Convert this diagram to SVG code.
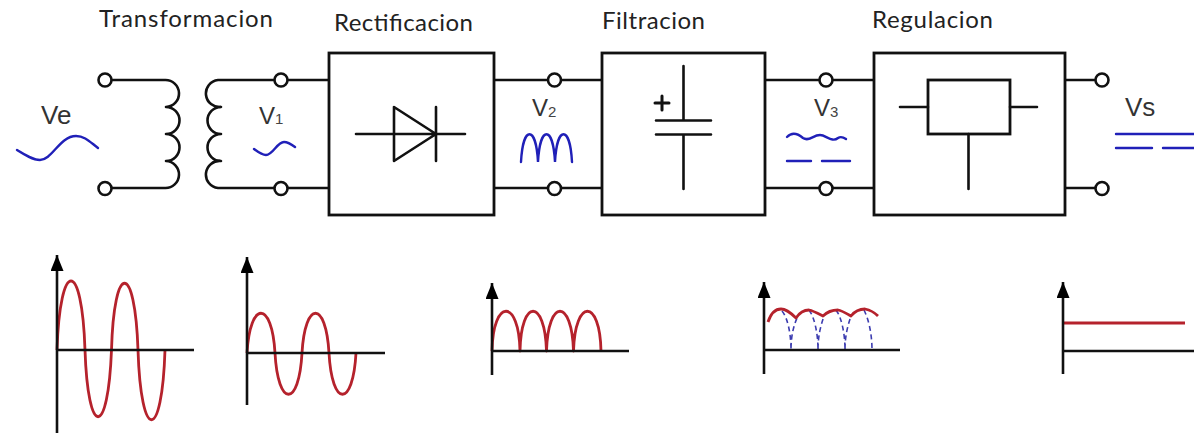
<svg xmlns="http://www.w3.org/2000/svg" width="1194" height="433" viewBox="0 0 1194 433">
<defs>
<marker id="ah" markerUnits="userSpaceOnUse" markerWidth="18" markerHeight="14" refX="16" refY="6.500" orient="auto"><path d="M0 0L16 6.500L0 13Z" fill="#000"/></marker>
</defs>
<style>
.w{fill:none;stroke:#111;stroke-width:2.6;stroke-linecap:round;stroke-linejoin:round}
.b{fill:#fff;stroke:#111;stroke-width:2.8}
.t{fill:#fff;stroke:#111;stroke-width:2.6}
.ax{fill:none;stroke:#111;stroke-width:2.6}
.r{fill:none;stroke:#b5222c;stroke-width:2.8;stroke-linejoin:round}
.bl{fill:none;stroke:#2020b8;stroke-width:2.400;stroke-linecap:round}
.d{fill:none;stroke:#3c3cb0;stroke-width:1.600;stroke-dasharray:5 3.500}
.h{font-family:"Lato","Open Sans",sans-serif;font-size:24px;fill:#222}
.v{font-family:"Liberation Sans",Arial,sans-serif;font-size:24px;fill:#333}
.s{font-family:"Liberation Sans",Arial,sans-serif;font-size:15px;fill:#444}
</style>
<rect width="1194" height="433" fill="#fff"/>
<g id="connectors" class="w">
<path d="M105 80H165A13 13 0 0 1 166 107A13.500 13.500 0 0 1 166 134A13.500 13.500 0 0 1 166 161A13.500 13.500 0 0 1 165 188H105"/>
<path d="M281 80H218A13 13 0 0 0 221 107A13.500 13.500 0 0 0 221 134A13.500 13.500 0 0 0 221 161A13.500 13.500 0 0 0 218 188H281"/>
<path d="M281 80H329M281 188H329M494 80H602M494 188H602M765 80H874M765 188H874M1065 80H1102M1065 188H1102"/>
</g>
<g id="terminals">
<circle class="t" cx="105" cy="80" r="6.500"/><circle class="t" cx="105" cy="188.500" r="6.500"/>
<circle class="t" cx="281" cy="80" r="6.500"/><circle class="t" cx="281" cy="188.500" r="6.500"/>
<circle class="t" cx="554.500" cy="80" r="6.500"/><circle class="t" cx="554.500" cy="188.500" r="6.500"/>
<circle class="t" cx="826" cy="80" r="6.500"/><circle class="t" cx="826" cy="188.500" r="6.500"/>
<circle class="t" cx="1102" cy="80" r="6.500"/><circle class="t" cx="1102" cy="188.500" r="6.500"/>
</g>
<g id="rectifier">
<rect class="b" x="329" y="53" width="165" height="162"/>
<path class="w" d="M356 134H465M394 107V161L436 134ZM436 107V161"/>
</g>
<g id="filter">
<rect class="b" x="602" y="53" width="163" height="162"/>
<path class="w" d="M683.500 66V120M656 120.500H711M656 134.500H711M683.500 134.500V189"/>
<path class="w" style="stroke-width:3" d="M655 103H669M662 96V110"/>
</g>
<g id="regulator">
<rect class="b" x="874" y="53" width="191" height="162"/>
<rect class="b" x="928" y="80" width="82" height="54"/>
<path class="w" d="M900 107H928M1010 107H1037M968.500 134V189"/>
</g>
<g id="labels">
<text class="h" x="99" y="27" textLength="174">Transformacion</text>
<text class="h" x="334" y="31" textLength="139">Rectificacion</text>
<text class="h" x="602" y="29" textLength="103">Filtracion</text>
<text class="h" x="872" y="28" textLength="121">Regulacion</text>
<text class="v" style="font-size:26px" x="41" y="124">Ve</text>
<text class="v" x="259" y="124">V</text><text class="s" x="275" y="124">1</text>
<text class="v" x="532" y="116">V</text><text class="s" x="548" y="117">2</text>
<text class="v" x="814" y="116">V</text><text class="s" x="830" y="117">3</text>
<text class="v" style="font-size:26px" x="1125" y="116">Vs</text>
</g>
<g id="input-waves">
<path class="bl" d="M17 150C25 155 33 160 40 160C52 160 60 136 76 136C85 136 90 142 98 148"/>
<path class="bl" d="M254 149C258 152 262 155 266 155C273 155 277 142 284 142C288 142 291 144 295 147"/>
<path class="bl" d="M521 162C523 125 536 125 538 162C540 125 553 125 555 162C557 125 570 125 572 162"/>
<path class="bl" d="M787 137C792 132 797 133 803 138C809 142 813 135 820 135C826 135 832 143 838 138C841 136 843 137 846 139"/>
<path class="bl" d="M787 161H811M822 161H850"/>
<path class="bl" d="M1116 134H1194M1116 148H1152M1163 148H1194"/>
</g>
<g id="graph-1">
<path class="r" d="M57 350C60 258 82 258 85 350C88 439 108 439 111.500 350C114 261 135 261 138 350C141 443 162 443 165 350"/>
<path class="ax" marker-end="url(#ah)" d="M57 433V255"/><path class="ax" d="M57 350H194"/>
</g>
<g id="graph-2">
<path class="r" d="M247 353C250 300 272 300 275 353C278 408 299 408 302 353C305 300 326 300 329 353C332 408 353 408 356 353"/>
<path class="ax" marker-end="url(#ah)" d="M247 405V257"/><path class="ax" d="M247 353H385"/>
</g>
<g id="graph-3">
<path class="r" d="M492 351C493 298 519 298 520 351C521 298 545 298 546.500 351C548 298 572 298 573.500 351C575 298 600 298 601 351"/>
<path class="ax" marker-end="url(#ah)" d="M492 375V283"/><path class="ax" d="M492 351H629"/>
</g>
<g id="graph-4">
<path class="d" d="M782 311C788 318 791 335 791 350C791 335 794 325 797 318M809 310C815 318 818 335 818 350C818 335 821 325 824 316M836 310C842 318 845 335 845 350C845 335 848 325 851 316M864 310C869 320 872 335 872 350"/>
<path class="r" d="M768 322C771 313 775 309 781 309C786 309 792 314 796 318C800 312 804 310 809 310C814 311 819 314 823 316C828 311 832 310 838 310C843 311 847 314 851 316C855 311 859 309 865 309C870 310 875 313 878 316"/>
<path class="ax" marker-end="url(#ah)" d="M764 374V282"/><path class="ax" d="M764 350H900"/>
</g>
<g id="graph-5">
<path class="r" d="M1063 323H1185"/>
<path class="ax" marker-end="url(#ah)" d="M1063 374V282"/><path class="ax" d="M1063 351H1194"/>
</g>
</svg>
